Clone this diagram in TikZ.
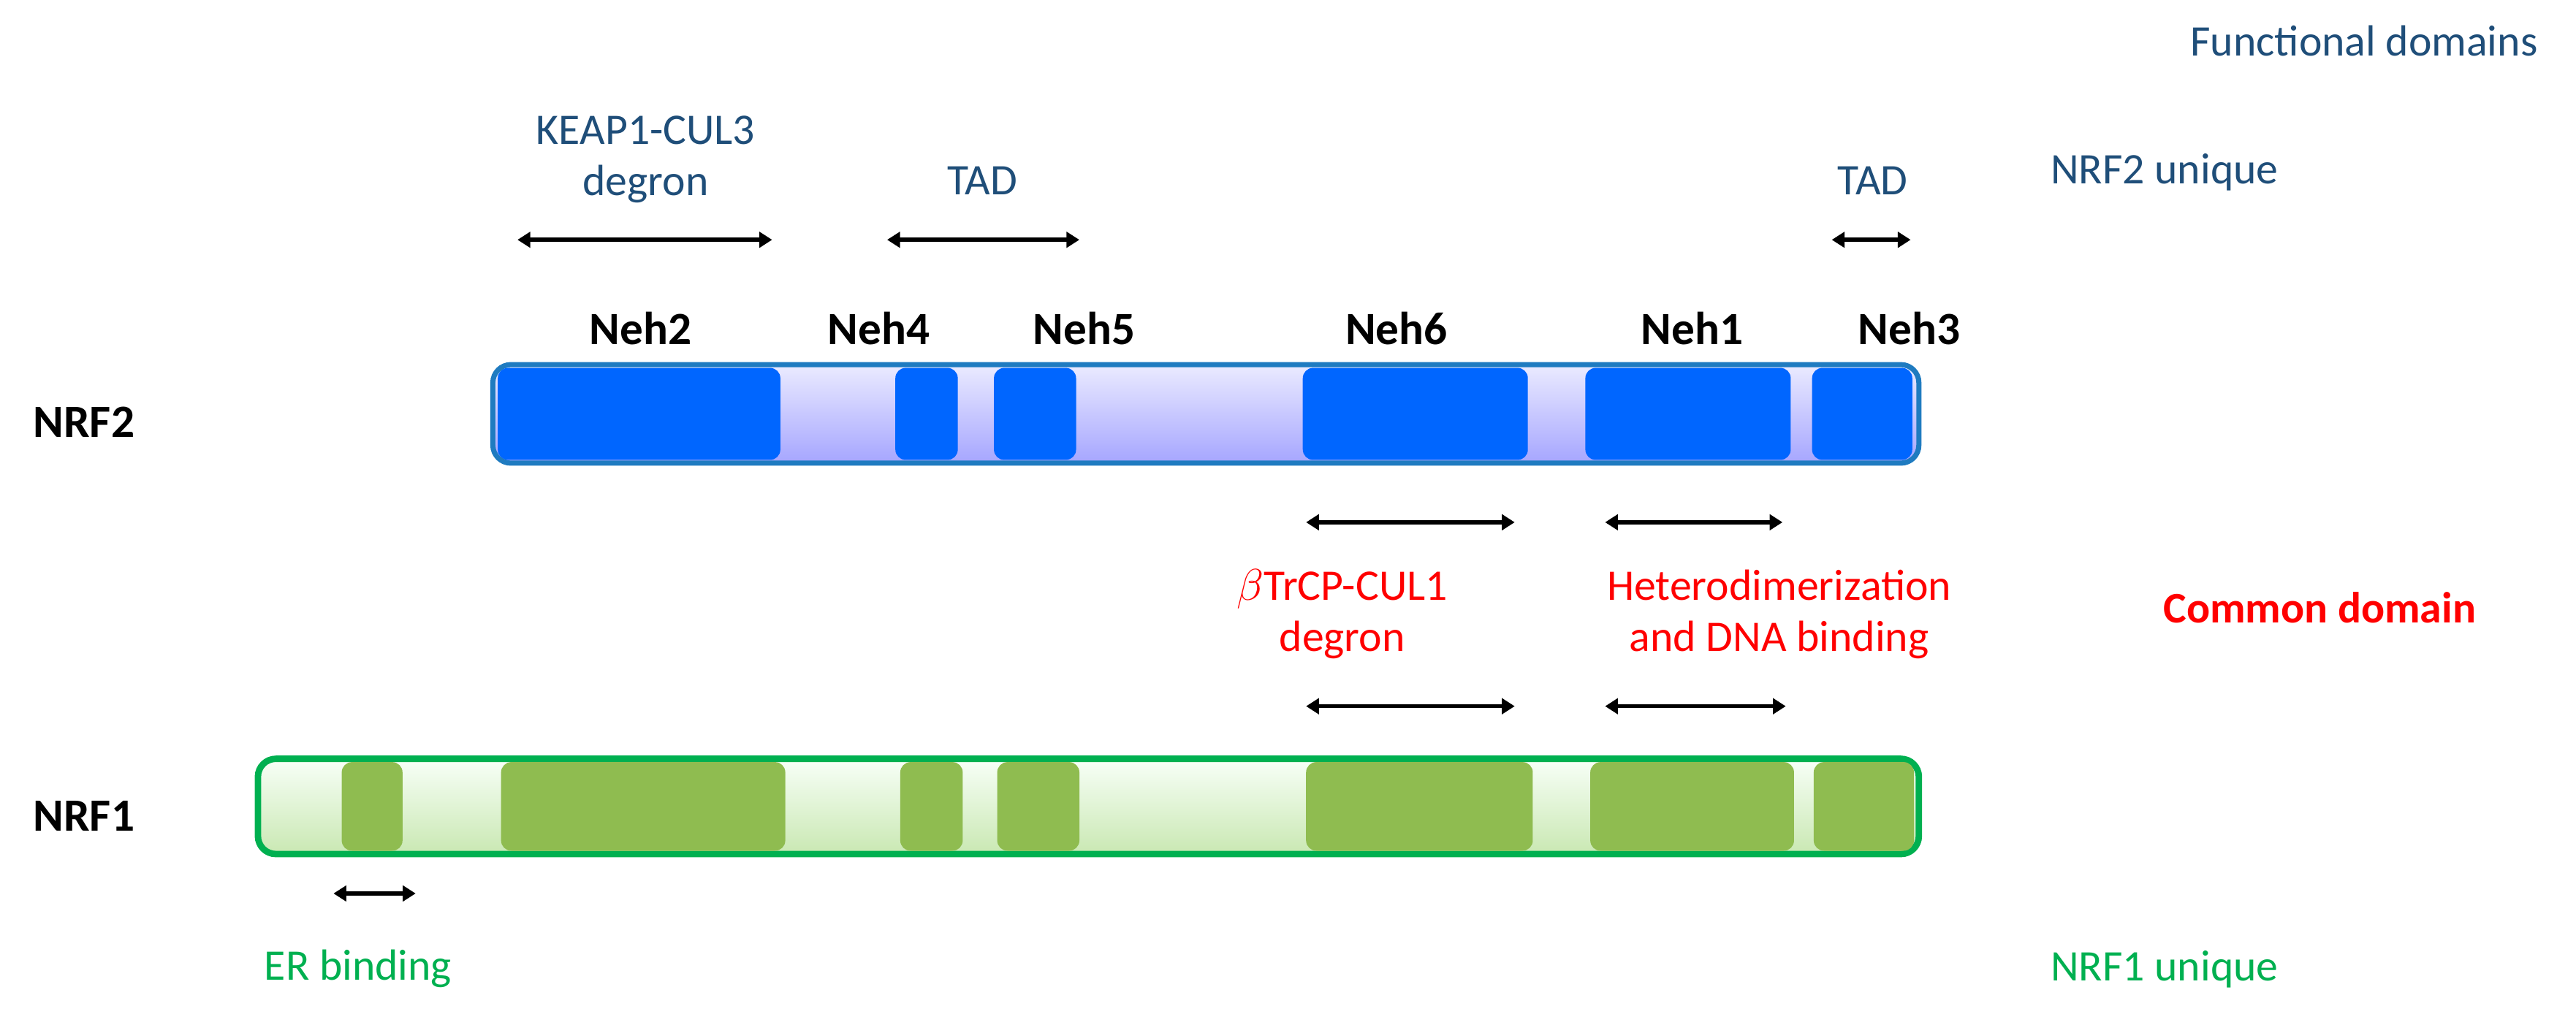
\documentclass[tikz,border=0pt]{standalone}
\usepackage{fontspec}
\setmainfont{Carlito}
\usetikzlibrary{arrows.meta}
\definecolor{dblue}{HTML}{1F4E79}
\definecolor{bblue}{HTML}{0066FF}
\definecolor{bedge}{HTML}{1F7BC0}
\definecolor{gedge}{HTML}{00B050}
\definecolor{gblock}{HTML}{8FBC50}
\definecolor{myred}{HTML}{FF0000}
\definecolor{mygreen}{HTML}{00B050}
\begin{document}
\begin{tikzpicture}[x=0.2248mm,y=-0.2248mm,
  txt/.style={font=\fontsize{17}{20}\selectfont, align=center, inner sep=0pt},
  neh/.style={font=\fontsize{18}{21}\selectfont\bfseries, inner sep=0pt},
  dar/.style={{Triangle[width=6pt,length=5pt]}-{Triangle[width=6pt,length=5pt]}, line width=1.6pt},
  bblk/.style={fill=bblue, rounded corners=4pt},
  gblk/.style={fill=gblock, rounded corners=4pt}]
\useasboundingbox (0,0) rectangle (1568,624);
% top texts
\node[txt, text=dblue, anchor=east] (fd) at (1545,25) {Functional domains};
\node[txt, text=dblue] (keap) at (393,97) {KEAP1-CUL3\\degron};
\node[txt, text=dblue] (tad1) at (598,110) {TAD};
\node[txt, text=dblue] (tad2) at (1140,110) {TAD};
\node[txt, text=dblue, anchor=west] (n2u) at (1248,105) {NRF2 unique};
\coordinate (a1l) at (315,146); \coordinate (a1r) at (470,146);
\coordinate (a2l) at (540,146); \coordinate (a2r) at (657,146);
\coordinate (a3l) at (1115,146); \coordinate (a3r) at (1163,146);
\draw[dar] (a1l) -- (a1r);
\draw[dar] (a2l) -- (a2r);
\draw[dar] (a3l) -- (a3r);
% Neh labels
\node[neh] (neh2) at (390,200) {Neh2};
\node[neh] (neh4) at (535,200) {Neh4};
\node[neh] (neh5) at (660,200) {Neh5};
\node[neh] (neh6) at (850,200) {Neh6};
\node[neh] (neh1) at (1030,200) {Neh1};
\node[neh] (neh3) at (1162,200) {Neh3};
\node[neh, anchor=west] (nrf2) at (20,257) {NRF2};
\node[neh, anchor=west] (nrf1) at (20,497) {NRF1};
% NRF2 bar
\shade[top color=blue!8, bottom color=blue!35, rounded corners=7pt, draw=bedge, line width=2pt] (300,222) rectangle (1168,282);
\foreach \a/\b in {303/475,545/583,605/655,793/930,965/1090,1103/1164}
  \fill[bblk] (\a,224) rectangle (\b,280);
% middle
\coordinate (b1l) at (795,318); \coordinate (b1r) at (922,318);
\coordinate (b2l) at (977,318); \coordinate (b2r) at (1085,318);
\draw[dar] (b1l) -- (b1r);
\draw[dar] (b2l) -- (b2r);
\node[txt, text=myred] (btrcp) at (817,374) {$\beta$TrCP-CUL1\\degron};
\node[txt, text=myred] (het) at (1083,374) {Heterodimerization\\and DNA binding};
\node[txt, text=myred, font=\fontsize{17}{20}\selectfont\bfseries] (cd) at (1412,370) {Common domain};
\coordinate (c1l) at (795,430); \coordinate (c1r) at (922,430);
\coordinate (c2l) at (977,430); \coordinate (c2r) at (1087,430);
\draw[dar] (c1l) -- (c1r);
\draw[dar] (c2l) -- (c2r);
% NRF1 bar
\shade[top color=green!3, bottom color=green!40!olive!30, rounded corners=7pt, draw=gedge, line width=2.5pt] (157,462) rectangle (1168,520);
\foreach \a/\b in {208/245,305/478,548/586,607/657,795/933,968/1092,1104/1165}
  \fill[gblk] (\a,464) rectangle (\b,518);
\coordinate (d1l) at (203,544); \coordinate (d1r) at (253,544);
\draw[dar] (d1l) -- (d1r);
\node[txt, text=mygreen] (er) at (218,590) {ER binding};
\node[txt, text=mygreen, anchor=west] (n1u) at (1248,590) {NRF1 unique};
\end{tikzpicture}
\end{document}
